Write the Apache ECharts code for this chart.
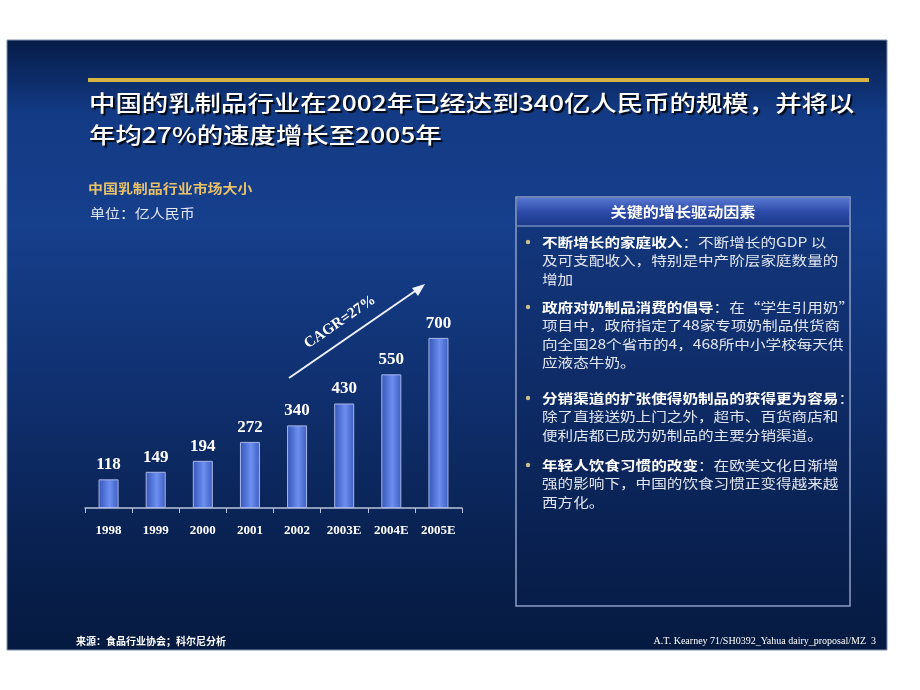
<!DOCTYPE html>
<html><head><meta charset="utf-8">
<script src="https://cdn.jsdelivr.net/npm/echarts@6/dist/echarts.min.js"></script>
<style>html,body{margin:0;padding:0;background:#fff}#c{width:920px;height:690px}</style>
</head><body><div id="c"></div>
<script>
const categories = ['1998','1999','2000','2001','2002','2003E','2004E','2005E'];
const marketSize = [118,149,194,272,340,430,550,700];
const titleLines = ['中国的乳制品行业在2002年已经达到340亿人民币的规模，并将以','年均27%的速度增长至2005年'];
const chartTitle = '中国乳制品行业市场大小';
const unitText = '单位：亿人民币';
const panelTitle = '关键的增长驱动因素';
const bullets = [
  {head:'不断增长的家庭收入', lines:['：不断增长的GDP 以','及可支配收入，特别是中产阶层家庭数量的','增加']},
  {head:'政府对奶制品消费的倡导', lines:['：在“学生引用奶”','项目中，政府指定了48家专项奶制品供货商','向全国28个省市的4，468所中小学校每天供','应液态牛奶。']},
  {head:'分销渠道的扩张使得奶制品的获得更为容易', lines:['：','除了直接送奶上门之外，超市、百货商店和','便利店都已成为奶制品的主要分销渠道。']},
  {head:'年轻人饮食习惯的改变', lines:['：在欧美文化日渐增','强的影响下，中国的饮食习惯正变得越来越','西方化。']}
];
const cagrText = 'CAGR=27%';
const sourceText = '来源：食品行业协会；科尔尼分析';
const footerRight = 'A.T. Kearney 71/SH0392_Yahua dairy_proposal/MZ  3';

const chart = echarts.init(document.getElementById('c'));
const CJK = '"Noto Sans CJK SC", "Noto Sans", sans-serif';
const SERIF = '"Liberation Serif", "DejaVu Serif", serif';

const g = [];
g.push({type:'rect', z:-10, shape:{x:7,y:40,width:880,height:610},
  style:{fill:new echarts.graphic.LinearGradient(0,0,0,1,[
    {offset:0,color:'#061c48'},{offset:0.12,color:'#133a84'},{offset:0.3,color:'#163f8c'},
    {offset:0.6,color:'#0f2e6c'},{offset:0.85,color:'#08204e'},{offset:1,color:'#051a40'}]),
    stroke:'#7f8fae', lineWidth:1}});
g.push({type:'rect', shape:{x:88,y:78,width:781,height:4}, style:{fill:'#d8b443'}});
titleLines.forEach((t,i)=>{
  g.push({type:'text', x:89, y:103+i*32, scaleX:1.2,
    style:{text:t, fill:'#ffffff', font:'500 22px '+CJK, textVerticalAlign:'middle',
      textShadowColor:'rgba(0,0,0,0.85)', textShadowOffsetX:2, textShadowOffsetY:2, textShadowBlur:1}});
});
g.push({type:'text', x:88, y:188, scaleX:1.15,
  style:{text:chartTitle, fill:'#e6c16a', font:'bold 13px '+CJK, textVerticalAlign:'middle',
    textShadowColor:'rgba(0,0,0,0.8)', textShadowOffsetX:1, textShadowOffsetY:1}});
g.push({type:'text', x:90, y:213, scaleX:1.15,
  style:{text:unitText, fill:'#e4e8f2', font:'13px '+CJK, textVerticalAlign:'middle',
    textShadowColor:'rgba(0,0,0,0.6)', textShadowOffsetX:1, textShadowOffsetY:1}});
g.push({type:'line', shape:{x1:289,y1:378,x2:421,y2:287}, style:{stroke:'#eef2ff', lineWidth:2}});
g.push({type:'polygon', shape:{points:[[425,284],[412,288],[418,296]]}, style:{fill:'#eef2ff'}});
g.push({type:'text', x:340, y:322, rotation:34.5*Math.PI/180,
  style:{text:cagrText, fill:'#ffffff', font:'bold 15px '+SERIF, textAlign:'center', textVerticalAlign:'middle'}});
g.push({type:'rect', shape:{x:516,y:197,width:334,height:409}, style:{fill:'rgba(10,30,80,0.25)', stroke:'#8d9dc4', lineWidth:1.5}});
g.push({type:'rect', shape:{x:517,y:198,width:332,height:28},
  style:{fill:new echarts.graphic.LinearGradient(0,0,0,1,[{offset:0,color:'#5877d2'},{offset:0.5,color:'#2c4ba8'},{offset:1,color:'#1b3888'}])}});
g.push({type:'line', shape:{x1:517,y1:226,x2:849,y2:226}, style:{stroke:'#9fb0dc', lineWidth:1}});
g.push({type:'text', x:683, y:212, scaleX:1.15,
  style:{text:panelTitle, fill:'#ffffff', font:'bold 14px '+CJK, textAlign:'center', textVerticalAlign:'middle',
    textShadowColor:'rgba(0,0,0,0.6)', textShadowOffsetX:1, textShadowOffsetY:1}});
const paraY = [242, 307, 398, 465];
const LH = 18.3;
bullets.forEach((b,i)=>{
  const y0 = paraY[i];
  g.push({type:'circle', shape:{cx:528,cy:y0,r:2.2}, style:{fill:'#c9c08a'}});
  g.push({type:'text', x:542, y:y0, scaleX:1.2,
    style:{text:'{h|'+b.head+'}{n|'+b.lines[0]+'}', textVerticalAlign:'middle',
      rich:{h:{fill:'#ffffff', font:'bold 13px '+CJK}, n:{fill:'#e2e6f0', font:'13px '+CJK}}}});
  for(let k=1;k<b.lines.length;k++){
    g.push({type:'text', x:542, y:y0+k*LH, scaleX:1.2,
      style:{text:b.lines[k], fill:'#e2e6f0', font:'13px '+CJK, textVerticalAlign:'middle'}});
  }
});
g.push({type:'text', x:76, y:641, style:{text:sourceText, fill:'#ffffff', font:'bold 10px '+CJK, textVerticalAlign:'middle'}});
g.push({type:'text', x:876, y:641, style:{text:footerRight, fill:'#ffffff', font:'10px '+SERIF, textAlign:'right', textVerticalAlign:'middle'}});

chart.setOption({
  backgroundColor:'#ffffff',
  animation:false,
  grid:{left:85, right:458, top:265, bottom:182, containLabel:false},
  xAxis:{type:'category', data:categories, boundaryGap:true,
    axisLine:{lineStyle:{color:'#b8c2dc', width:1.5}},
    axisTick:{show:true, interval:0, length:5, lineStyle:{color:'#b8c2dc'}},
    axisLabel:{interval:0, color:'#ffffff', fontFamily:SERIF, fontWeight:'bold', fontSize:13, margin:16}},
  yAxis:{type:'value', min:0, max:1000, show:false, splitLine:{show:false}},
  series:[{type:'bar', data:marketSize, barWidth:20,
    itemStyle:{borderColor:'#a8b8e8', borderWidth:1,
      color:new echarts.graphic.LinearGradient(0,0,1,0,[{offset:0,color:'#3554b8'},{offset:0.55,color:'#6c8ff0'},{offset:1,color:'#3d5cc0'}])},
    label:{show:true, position:'top', distance:6, color:'#ffffff', fontFamily:SERIF, fontWeight:'bold', fontSize:17}}],
  graphic:g
});
</script></body></html>
